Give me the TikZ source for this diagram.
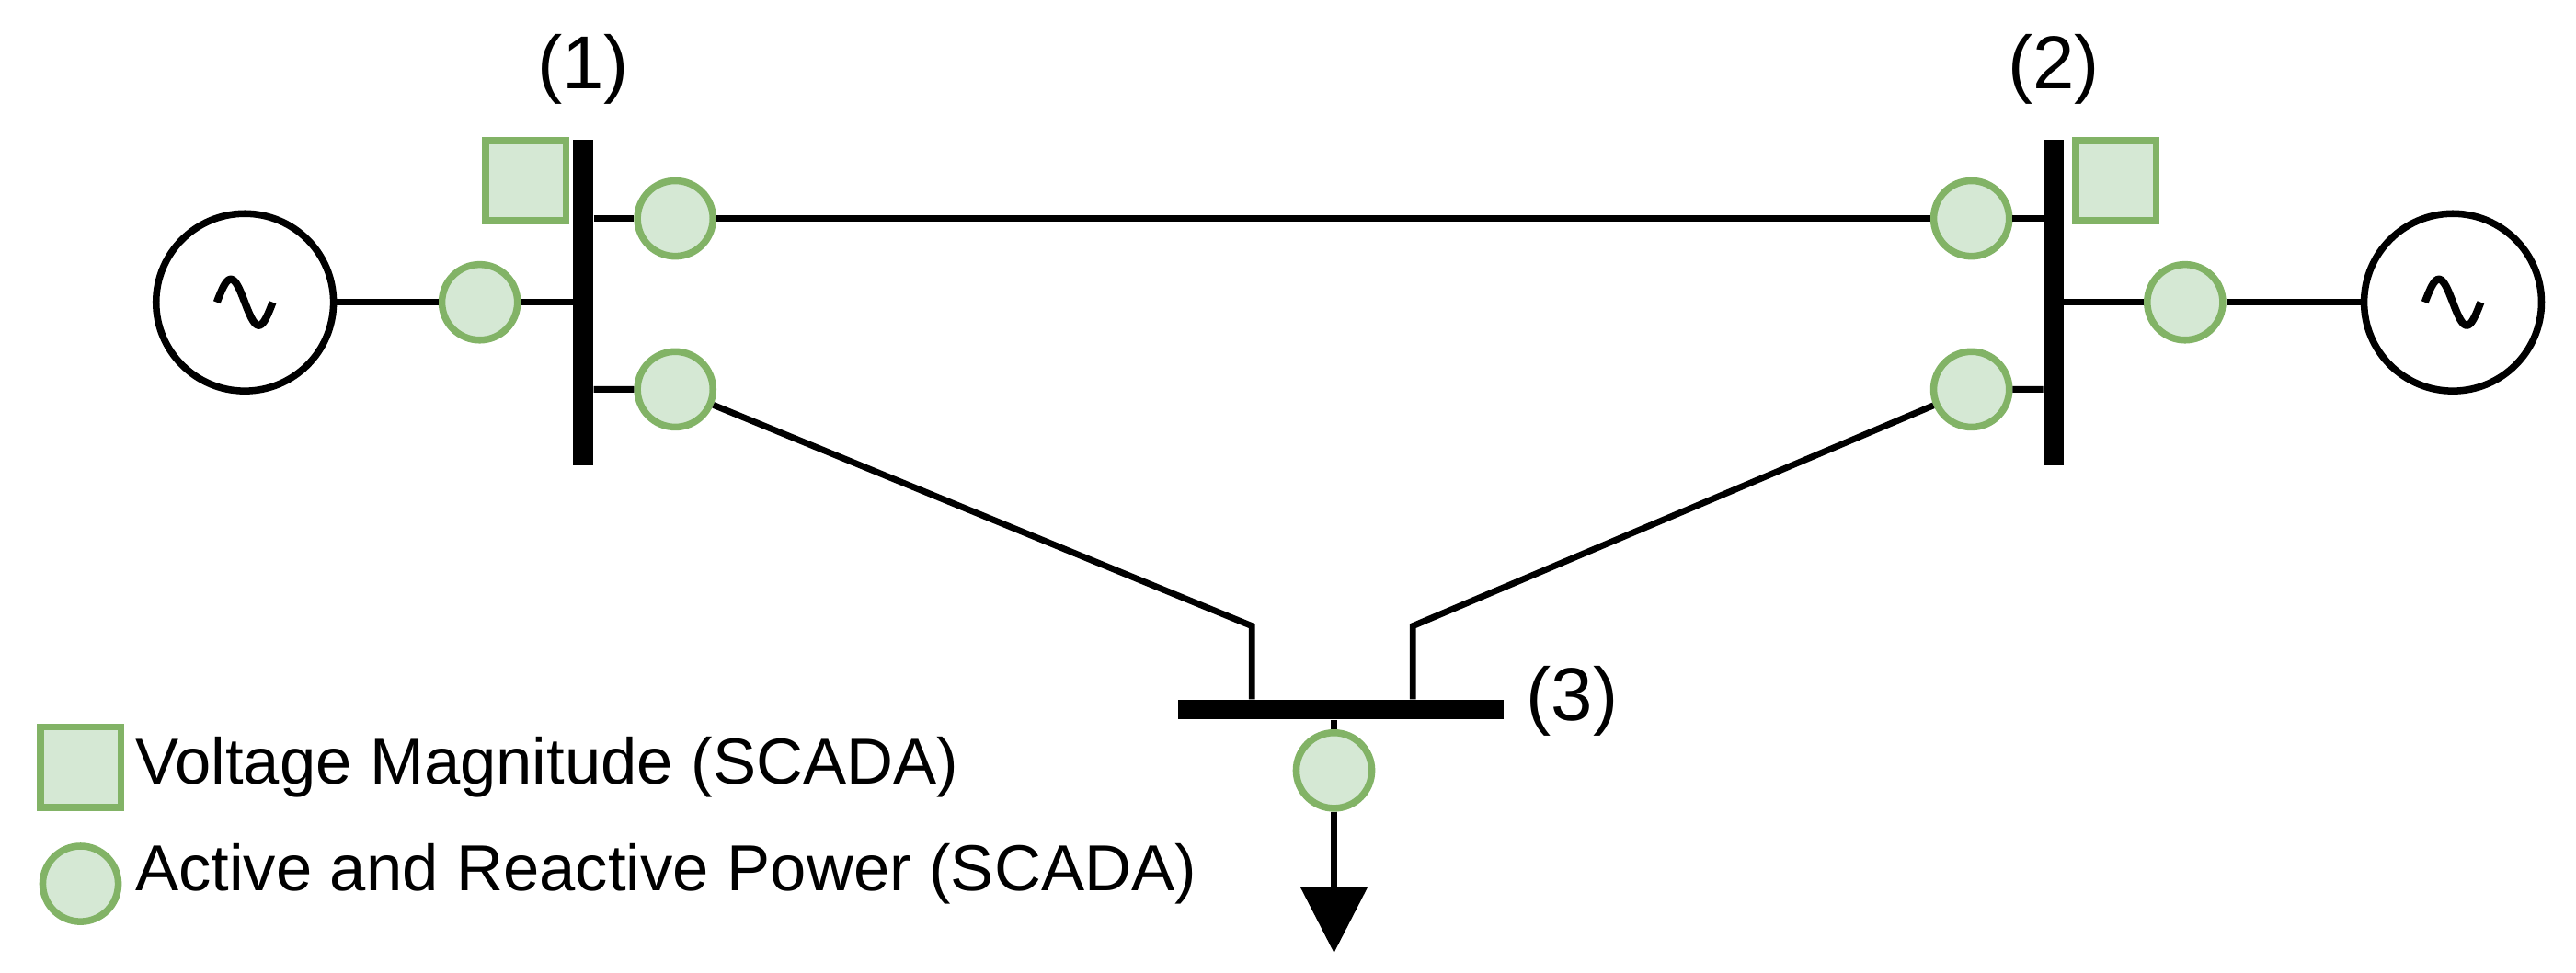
\documentclass[tikz,border=0pt]{standalone}
\usepackage{fontspec}
\setmainfont{Liberation Sans}
\usetikzlibrary{positioning, arrows.meta}
\definecolor{mfill}{HTML}{D5E8D4}
\definecolor{mdraw}{HTML}{82B366}
\tikzset{
  meter/.style={circle, draw=mdraw, fill=mfill, line width=2.4pt, minimum size=0.92cm, inner sep=0pt},
  vmeter/.style={rectangle, draw=mdraw, fill=mfill, line width=2.4pt, minimum size=0.98cm, inner sep=0pt},
  gen/.style={circle, draw, line width=2.4pt, minimum size=2.16cm, inner sep=0pt},
  vbus/.style={rectangle, fill=black, minimum width=0.24cm, minimum height=3.96cm, inner sep=0pt},
  hbus/.style={rectangle, fill=black, minimum width=3.96cm, minimum height=0.24cm, inner sep=0pt},
  wire/.style={line width=2.2pt},
  lbl/.style={font=\fontsize{26}{30}\selectfont},
  leg/.style={font=\fontsize{22.5}{26}\selectfont, anchor=west, inner sep=0pt}
}
\begin{document}
\begin{tikzpicture}[x=0.02cm, y=-0.02cm]
        \useasboundingbox (0,0) rectangle (1568,592);
        % Buses
        \node (b1) [vbus] at (355,184) {};
        \node (b2) [vbus] at (1250,184) {};
        \node (b3) [hbus] at (816,432) {};
        \node (l1) [lbl] at (355,42) {(1)};
        \node (l2) [lbl] at (1250,42) {(2)};
        \node (l3) [lbl] at (957,427) {(3)};

        % Generators
        \node (g1) [gen] at (149,184) {};
        \node (g2) [gen] at (1493,184) {};
        \foreach \g in {g1,g2}
          \draw [line width=2.6pt, shift={(\g.center)}] plot[domain=-17:17, samples=50, smooth] (\x, {14*sin(\x*180/17)});

        % Meters
        \node (v1) [vmeter] at (320,110) {};
        \node (v2) [vmeter] at (1288,110) {};
        \node (m1g) [meter] at (292,184) {};
        \node (m12) [meter] at (411,133) {};
        \node (m13) [meter] at (411,237) {};
        \node (m21) [meter] at (1200,133) {};
        \node (m23) [meter] at (1200,237) {};
        \node (m2g) [meter] at (1330,184) {};
        \node (m3) [meter] at (812,469) {};
        \coordinate (k1) at (762,381);
        \coordinate (k2) at (860,381);
        \coordinate (load) at (812,580);

        % Lines
        \draw [wire] (g1) -- (m1g) -- (m1g -| b1.west);
        \draw [wire] (g2) -- (m2g) -- (m2g -| b2.east);
        \draw [wire] (m12 -| b1.east) -- (m12) -- (m21) -- (m21 -| b2.west);
        \draw [wire] (m13 -| b1.east) -- (m13) -- (k1) -- (k1 |- b3.north);
        \draw [wire] (m23 -| b2.west) -- (m23) -- (k2) -- (k2 |- b3.north);
        \draw [wire] (m3 |- b3.south) -- (m3);
        \draw [wire, -{Triangle[width=0.8cm, length=0.8cm]}] (m3) -- (load);

        % Legend
        \node (lv) [vmeter] at (49,467) {};
        \node (lp) [meter] at (49,538) {};
        \node [leg] at (82,467) {Voltage Magnitude (SCADA)};
        \node [leg] at (82,532) {Active and Reactive Power (SCADA)};
    \end{tikzpicture}
\end{document}
